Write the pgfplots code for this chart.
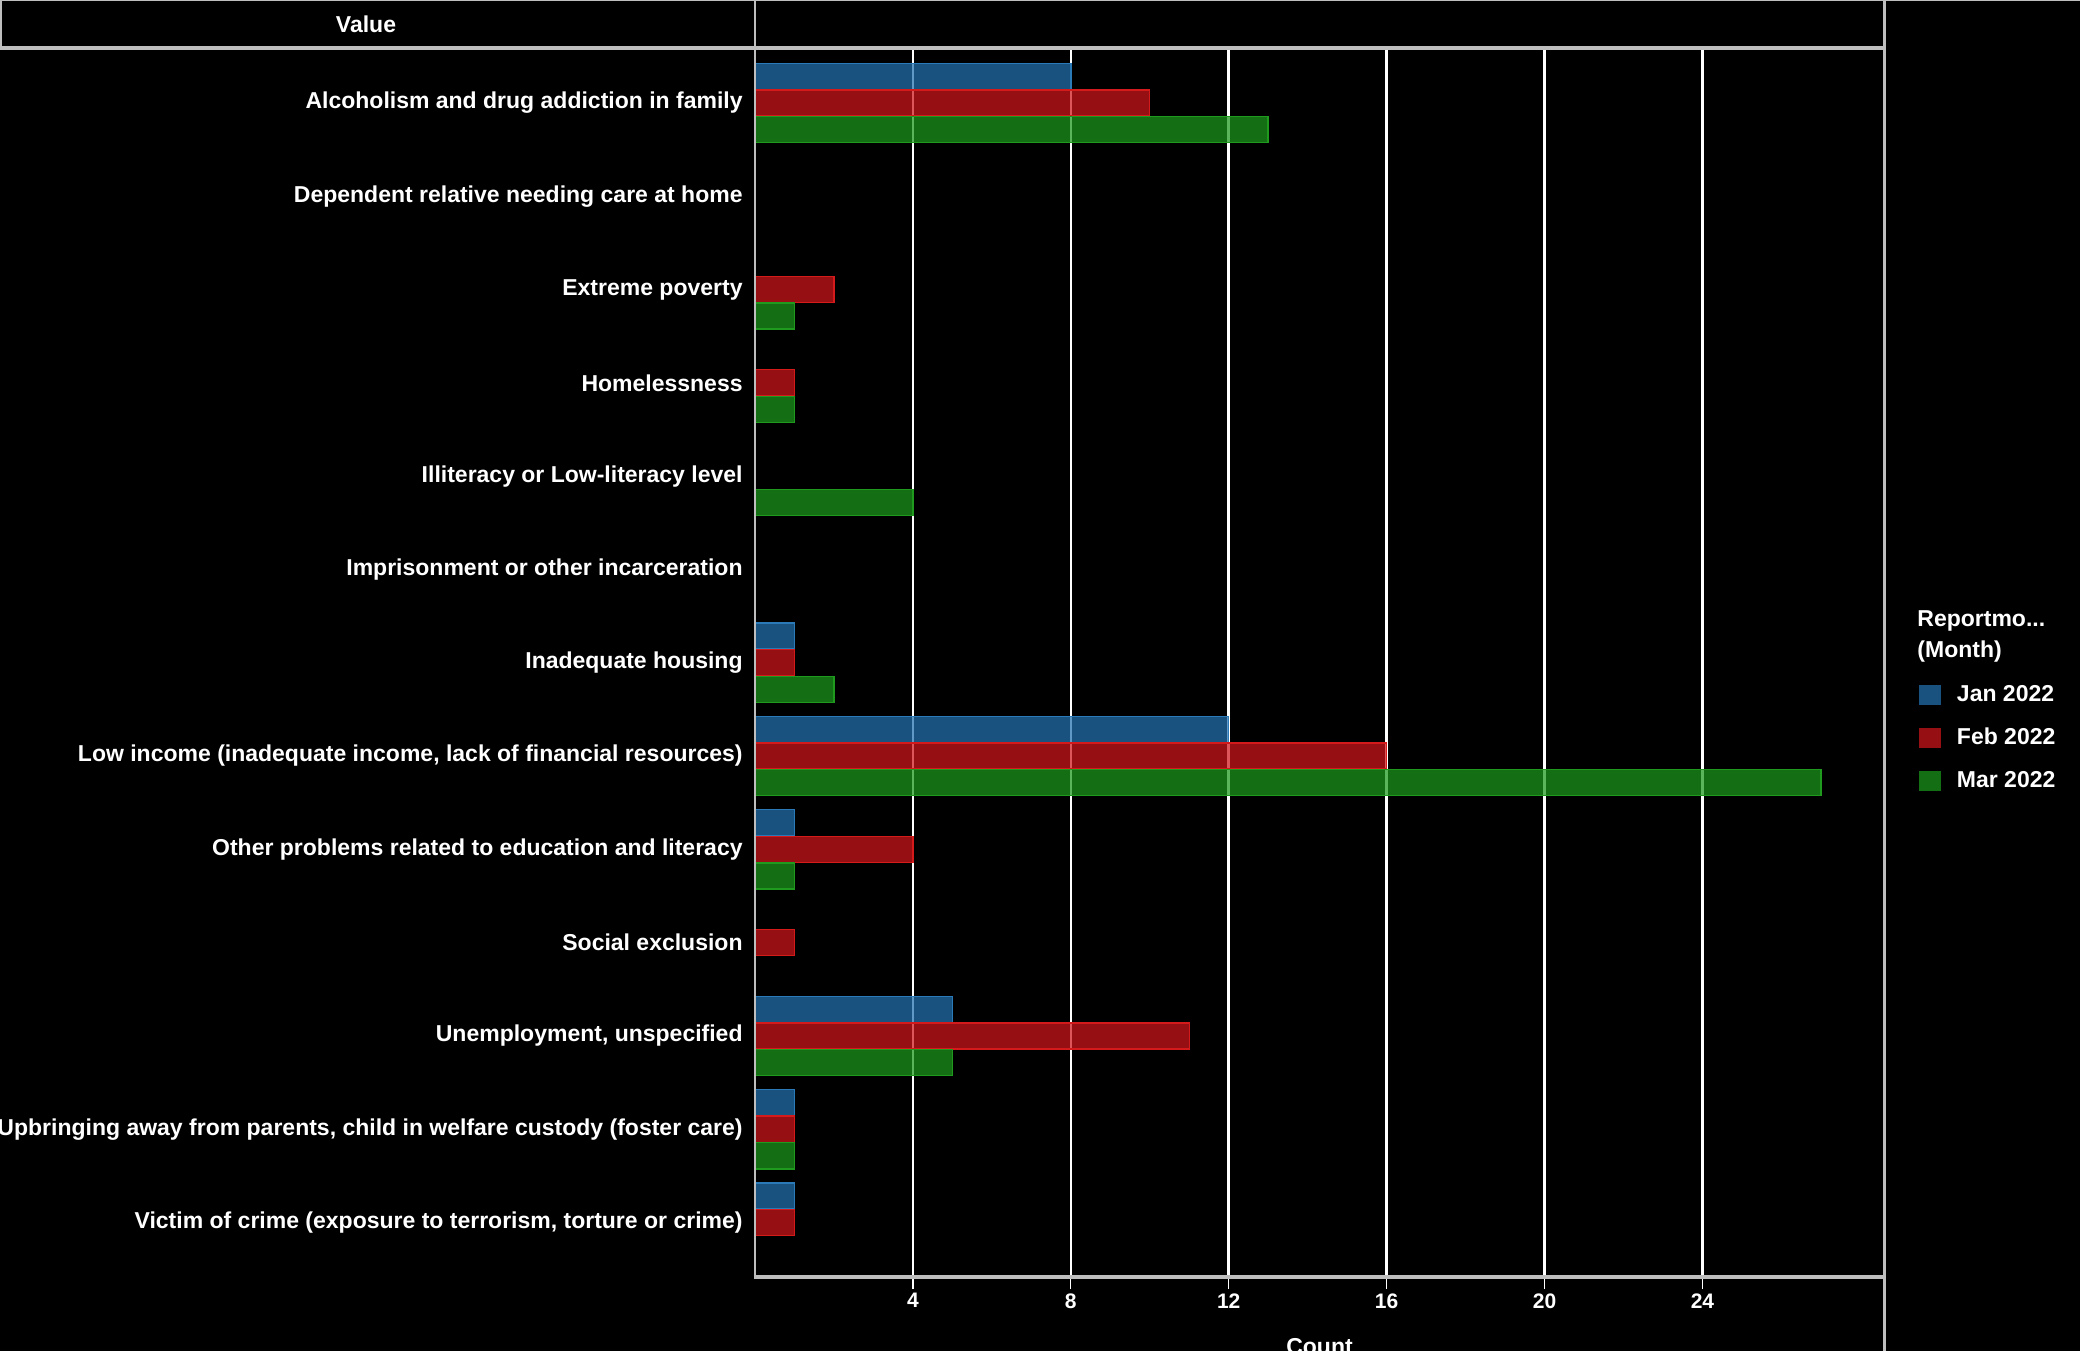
\documentclass[border=0pt]{standalone}
\usepackage{pgfplots}
\pgfplotsset{compat=1.18}
\usepackage{fontspec}
\setmainfont{Liberation Sans}
\definecolor{janfill}{RGB}{35,115,176}
\definecolor{febfill}{RGB}{208,21,25}
\definecolor{marfill}{RGB}{29,155,28}
\definecolor{janline}{RGB}{42,122,184}
\definecolor{febline}{RGB}{212,26,26}
\definecolor{marline}{RGB}{31,154,31}
\definecolor{frame}{RGB}{190,190,190}
\newcommand{\lf}{\fontsize{11.5}{13}\selectfont\bfseries}
\begin{document}
\begin{tikzpicture}
\fill[black] (0,0) rectangle (1040pt,675.5pt);
\useasboundingbox (0,0) rectangle (1040pt,675.5pt);
\begin{axis}[
  at={(377.5pt,37pt)}, anchor=south west,
  scale only axis, width=564.5pt, height=614.5pt,
  xbar, bar width=0.28,
  xmin=0, xmax=28.6,
  ymin=-0.588, ymax=12.584, y dir=reverse,
  axis line style={draw=none},
  xtick={4,8,12,16,20,24},
  ytick={0,...,12},
  yticklabels={
    {Alcoholism and drug addiction in family},
    {Dependent relative needing care at home},
    {Extreme poverty},
    {Homelessness},
    {Illiteracy or Low-literacy level},
    {Imprisonment or other incarceration},
    {Inadequate housing},
    {Low income (inadequate income, lack of financial resources)},
    {Other problems related to education and literacy},
    {Social exclusion},
    {Unemployment, unspecified},
    {Upbringing away from parents, child in welfare custody (foster care)},
    {Victim of crime (exposure to terrorism, torture or crime)}},
  xtick pos=bottom, ytick pos=left,
  tick align=outside, major tick length=6pt,
  xtick style={draw=white, line width=0.6pt},
  ytick style={draw=none},
  xmajorgrids, major grid style={white, line width=1.3pt},
  /pgf/number format/assume math mode=true,
  xticklabel style={text=white, font=\fontsize{10.5}{12}\selectfont\bfseries, inner sep=0pt, anchor=north, yshift=-2pt},
  yticklabel style={text=white, font=\lf, inner sep=0pt, anchor=east, xshift=0pt},
  xlabel={Count},
  xlabel style={text=white, font=\lf, at={(axis description cs:0.5,0)}, anchor=north, yshift=-27pt},
  legend style={at={(axis description cs:1.0253,0.4886)}, anchor=north west,
    draw=none, fill=none, text=white, font=\lf, row sep=7.5pt, column sep=6pt,
    nodes={inner sep=2pt, text height=8.5pt, text depth=1.5pt},
    cells={anchor=west}},
  legend image code/.code={\fill[#1, draw=none] (0pt,-5pt) rectangle (11pt,5pt);},
]
\addplot[fill=janfill, fill opacity=0.72, draw=janline, line width=0.7pt, bar shift=-0.285]
  coordinates {(8,0) (1,6) (12,7) (1,8) (5,10) (1,11) (1,12)};
\addlegendentry{Jan 2022}
\addplot[fill=febfill, fill opacity=0.72, draw=febline, line width=0.7pt, bar shift=0]
  coordinates {(10,0) (2,2) (1,3) (1,6) (16,7) (4,8) (1,9) (11,10) (1,11) (1,12)};
\addlegendentry{Feb 2022}
\addplot[fill=marfill, fill opacity=0.72, draw=marline, line width=0.7pt, bar shift=0.285]
  coordinates {(13,0) (1,2) (1,3) (4,4) (2,6) (27,7) (1,8) (5,10) (1,11)};
\addlegendentry{Mar 2022}
\end{axis}
% frame lines
\draw[frame, line width=0.8pt] (0,675.2pt) -- (1040pt,675.2pt);
\draw[frame, line width=0.8pt] (0.4pt,675.5pt) -- (0.4pt,651.5pt);
\draw[frame, line width=1.6pt] (0,651.5pt) -- (942pt,651.5pt);
\draw[frame, line width=1.3pt] (377.5pt,675.5pt) -- (377.5pt,37pt);
\draw[frame, line width=1.5pt] (942pt,675.5pt) -- (942pt,0pt);
\draw[frame, line width=2pt] (376.8pt,37pt) -- (942pt,37pt);
\node[text=white, font=\lf] at (183pt,663.5pt) {Value};
\node[text=white, font=\lf, anchor=west, inner sep=0pt] at (958.5pt,365pt) {Reportmo...};
\node[text=white, font=\lf, anchor=west, inner sep=0pt] at (958.5pt,349.5pt) {(Month)};
\end{tikzpicture}
\end{document}
